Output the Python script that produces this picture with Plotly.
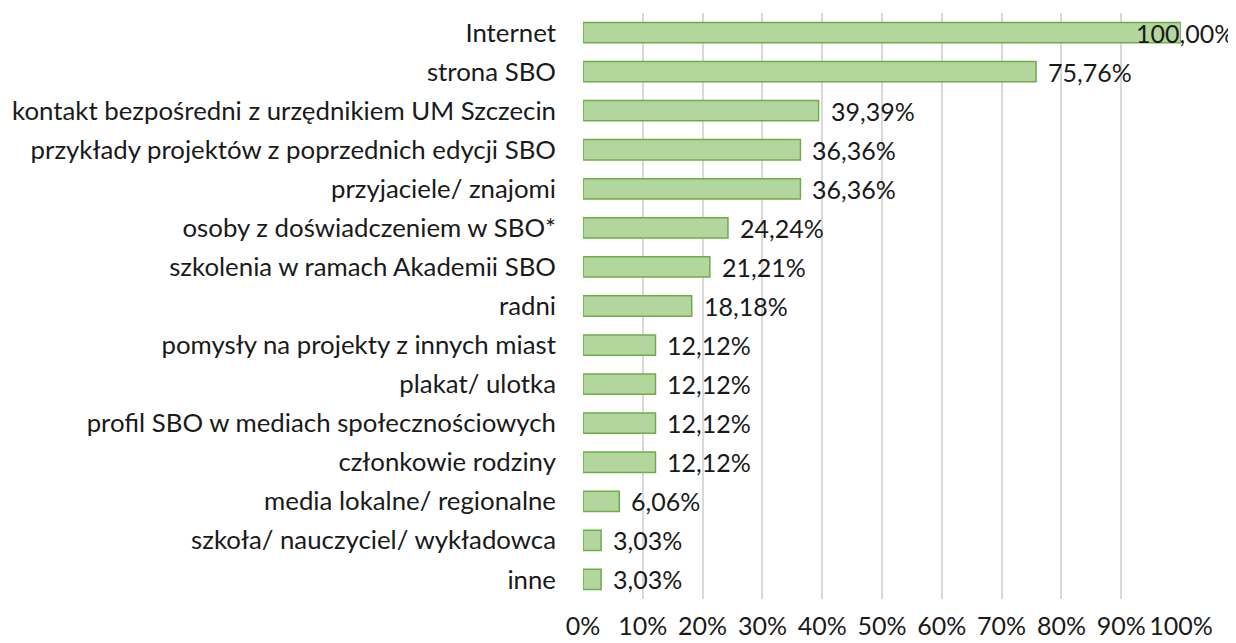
import plotly.graph_objects as go

categories = [
    "Internet",
    "strona SBO",
    "kontakt bezpośredni z urzędnikiem UM Szczecin",
    "przykłady projektów z poprzednich edycji SBO",
    "przyjaciele/ znajomi",
    "osoby z doświadczeniem w SBO*",
    "szkolenia w ramach Akademii SBO",
    "radni",
    "pomysły na projekty z innych miast",
    "plakat/ ulotka",
    "profil SBO w mediach społecznościowych",
    "członkowie rodziny",
    "media lokalne/ regionalne",
    "szkoła/ nauczyciel/ wykładowca",
    "inne",
]
values = [100.00, 75.76, 39.39, 36.36, 36.36, 24.24, 21.21, 18.18,
          12.12, 12.12, 12.12, 12.12, 6.06, 3.03, 3.03]
tick_vals = [0, 10, 20, 30, 40, 50, 60, 70, 80, 90, 100]
tick_text = ["0%", "10%", "20%", "30%", "40%", "50%", "60%", "70%", "80%", "90%", "100%"]

FONT = "Lato"
FS = 25
TXT = "#1a1a1a"

fig = go.Figure()
fig.add_trace(go.Bar(
    x=values,
    y=categories,
    orientation="h",
    marker=dict(color="#b3d69e", line=dict(color="#70ad47", width=1.5)),
    hoverinfo="skip",
))

annotations = []
for c, v in zip(categories, values):
    label = f"{v:.2f}%".replace(".", ",")
    if v >= 95:
        annotations.append(dict(x=v, y=c, xref="x", yref="y", text=label,
                                showarrow=False, xanchor="center", xshift=4,
                                font=dict(family=FONT, size=FS, color=TXT)))
    else:
        annotations.append(dict(x=v, y=c, xref="x", yref="y", text=label,
                                showarrow=False, xanchor="left", xshift=10,
                                font=dict(family=FONT, size=FS, color=TXT)))

fig.update_layout(
    width=1236, height=643,
    margin=dict(l=575, r=63, t=5, b=52),
    paper_bgcolor="white", plot_bgcolor="white",
    showlegend=False,
    bargap=0.48,
    font=dict(family=FONT, size=FS, color=TXT),
    annotations=annotations,
    xaxis=dict(
        range=[0, 100], tickvals=tick_vals, ticktext=tick_text,
        showgrid=True, gridcolor="#d9d9d9", gridwidth=1.5,
        zeroline=False, showline=False, ticks="",
        ticklabelstandoff=10, automargin=False,
        tickfont=dict(family=FONT, size=FS, color=TXT),
        fixedrange=True,
    ),
    yaxis=dict(
        categoryorder="array", categoryarray=categories, autorange="reversed",
        showgrid=False, zeroline=False, showline=False, ticks="",
        ticklabelstandoff=26, automargin=False,
        tickfont=dict(family=FONT, size=25.8, color=TXT),
        fixedrange=True,
    ),
)

fig.write_html("out.html")
